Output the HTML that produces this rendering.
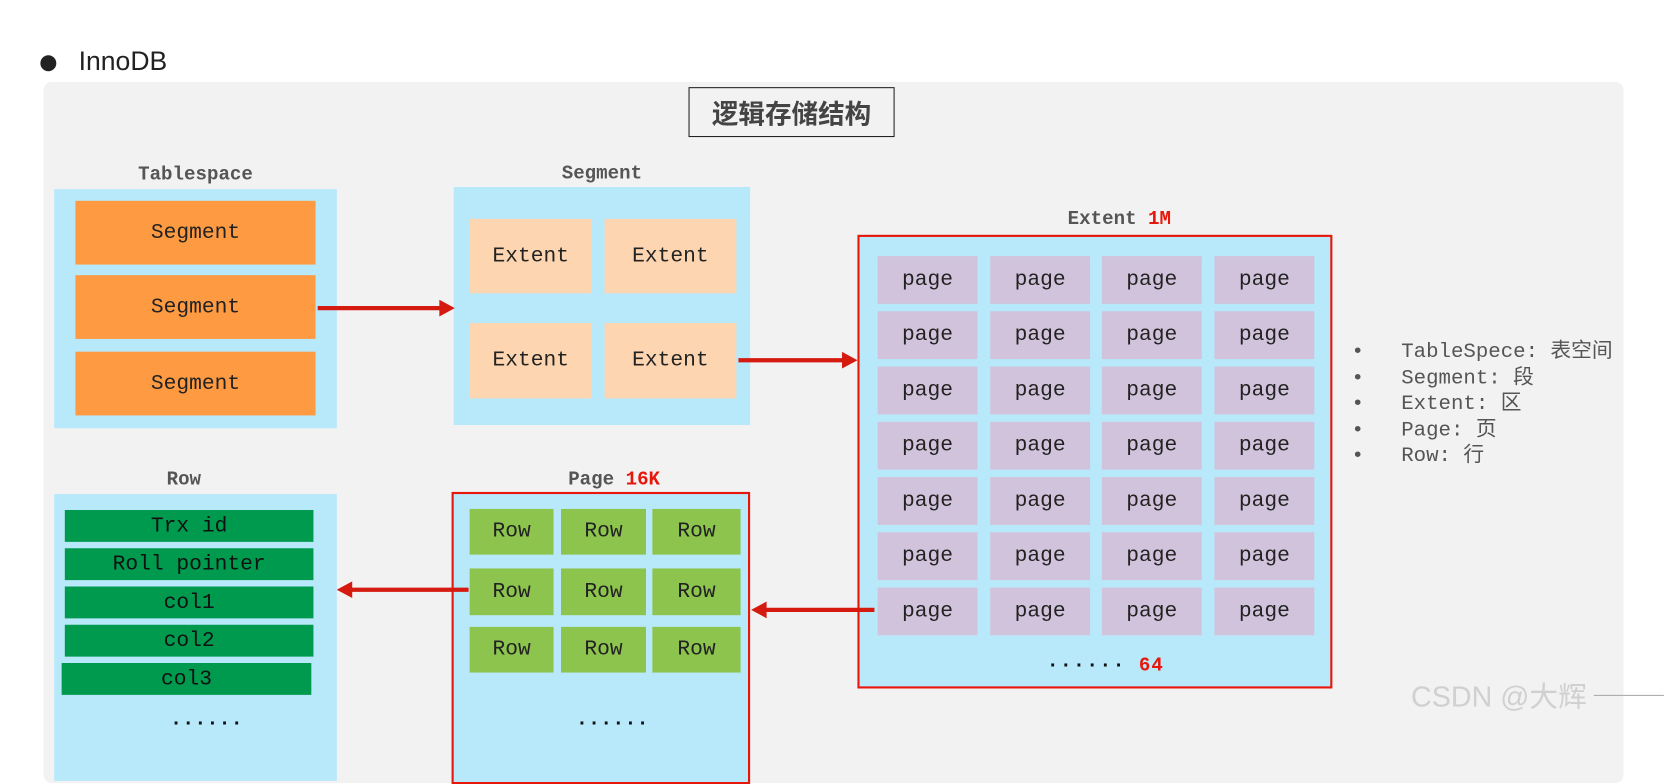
<!DOCTYPE html>
<html><head><meta charset="utf-8"><style>
*{margin:0;padding:0;box-sizing:border-box}
body{width:1666px;height:722px;background:#fff;position:relative;overflow:hidden;font-family:"Liberation Mono",monospace}
#w{position:absolute;left:0;top:0;width:1568px;height:680px;transform:scale(1.0625);transform-origin:0 0}
.a{position:absolute}
.panel{left:41px;top:77px;width:1487px;height:660px;background:#f2f2f2;border-radius:8px}
.blue{background:#b8e9fb}
.c{display:flex;align-items:center;justify-content:center;color:#222;font-size:20px}
.org{background:#fd9a42}
.pch{background:#fdd5b0}
.pg{background:#d1c3db}
.rw{background:#8dc44e}
.gr{background:#009a4e;color:#111}
.lbl{font-weight:bold;font-size:18px;color:#555;text-align:center}
.red{color:#e8170c}
.rb{border:2px solid #e8170c}
</style></head><body><div id="w">
<div class="a" style="left:38px;top:52px;width:15px;height:15px;border-radius:50%;background:#222"></div>
<div class="a" style="left:74px;top:44px;font-family:'Liberation Sans',sans-serif;font-size:25px;color:#222">InnoDB</div>
<div class="a panel"></div>
<div class="a c" style="left:648px;top:82px;width:194px;height:47px;border:1px solid #222;font-family:'Liberation Sans','Noto Sans CJK SC',sans-serif;font-weight:bold;font-size:25px;color:#444">逻辑存储结构</div>

<div class="a lbl" style="left:51px;top:155px;width:266px">Tablespace</div>
<div class="a blue" style="left:51px;top:178px;width:266px;height:225px"></div>
<div class="a c org" style="left:71px;top:189px;width:226px;height:60px">Segment</div>
<div class="a c org" style="left:71px;top:259px;width:226px;height:60px">Segment</div>
<div class="a c org" style="left:71px;top:331px;width:226px;height:60px">Segment</div>

<div class="a lbl" style="left:427px;top:154px;width:279px">Segment</div>
<div class="a blue" style="left:427px;top:176px;width:279px;height:224px"></div>
<div class="a c pch" style="left:442px;top:206px;width:115px;height:70px">Extent</div>
<div class="a c pch" style="left:569px;top:206px;width:124px;height:70px">Extent</div>
<div class="a c pch" style="left:442px;top:304px;width:115px;height:71px">Extent</div>
<div class="a c pch" style="left:569px;top:304px;width:124px;height:71px">Extent</div>

<div class="a lbl" style="left:807px;top:197px;width:493px">Extent <span class="red">1M</span></div>
<div class="a blue rb" style="left:807px;top:221px;width:447px;height:427px"></div>
<div id="pages"></div>
<div class="a" style="left:985px;top:615px;font-size:19px;font-weight:bold;color:#111;letter-spacing:1px">······ <span class="red" style="font-size:18px">64</span></div>

<div class="a lbl" style="left:51px;top:442px;width:244px">Row</div>
<div class="a blue" style="left:51px;top:465px;width:266px;height:270px"></div>
<div class="a c gr" style="left:61px;top:480px;width:234px;height:30px">Trx id</div>
<div class="a c gr" style="left:61px;top:516px;width:234px;height:30px">Roll pointer</div>
<div class="a c gr" style="left:61px;top:552px;width:234px;height:30px">col1</div>
<div class="a c gr" style="left:61px;top:588px;width:234px;height:30px">col2</div>
<div class="a c gr" style="left:58px;top:624px;width:235px;height:30px">col3</div>
<div class="a" style="left:160px;top:666px;font-size:19px;font-weight:bold;color:#111">......</div>

<div class="a lbl" style="left:425px;top:442px;width:306px">Page <span class="red">16K</span></div>
<div class="a blue rb" style="left:425px;top:463px;width:281px;height:275px"></div>
<div class="a c rw" style="left:442px;top:479px;width:79px;height:43px">Row</div>
<div class="a c rw" style="left:528px;top:479px;width:80px;height:43px">Row</div>
<div class="a c rw" style="left:614px;top:479px;width:83px;height:43px">Row</div>
<div class="a c rw" style="left:442px;top:535px;width:79px;height:44px">Row</div>
<div class="a c rw" style="left:528px;top:535px;width:80px;height:44px">Row</div>
<div class="a c rw" style="left:614px;top:535px;width:83px;height:44px">Row</div>
<div class="a c rw" style="left:442px;top:590px;width:79px;height:43px">Row</div>
<div class="a c rw" style="left:528px;top:590px;width:80px;height:43px">Row</div>
<div class="a c rw" style="left:614px;top:590px;width:83px;height:43px">Row</div>
<div class="a" style="left:542px;top:666px;font-size:19px;font-weight:bold;color:#111">......</div>

<svg class="a" style="left:0;top:0" width="1568" height="680">
<g fill="#d51a10" stroke="#d51a10">
<line x1="299" y1="290" x2="415" y2="290" stroke-width="4"/><polygon points="427,290 414,283 414,297"/>
<line x1="695" y1="339" x2="795" y2="339" stroke-width="4"/><polygon points="806,339 793,332 793,346"/>
<line x1="441" y1="555" x2="330" y2="555" stroke-width="4"/><polygon points="318,555 331,548 331,562"/>
<line x1="823" y1="574" x2="720" y2="574" stroke-width="4"/><polygon points="708,574 721,567 721,581"/>
</g></svg>

<div class="a" style="left:1272px;top:319px;font-size:19.5px;color:#555;line-height:24.5px;font-family:'Liberation Mono','Noto Sans CJK SC',monospace;white-space:pre">•   TableSpece: 表空间
•   Segment: 段
•   Extent: 区
•   Page: 页
•   Row: 行</div>
<div class="a" style="left:1328px;top:634px;font-family:'Liberation Sans','Noto Sans CJK SC',sans-serif;font-size:27px;color:#d0d0d0">CSDN @大辉</div>
<div class="a" style="left:1500px;top:654px;width:66px;height:1px;background:#aaa"></div>
</div>
<script>
var xs=[[826,94],[932,94],[1037,94],[1143,94]],h="";
for(var r=0;r<7;r++)for(var c=0;c<4;c++)h+='<div class="a c pg" style="left:'+xs[c][0]+'px;top:'+(241+r*52)+'px;width:'+xs[c][1]+'px;height:45px">page</div>';
document.getElementById("pages").innerHTML=h;
</script>
</body></html>
